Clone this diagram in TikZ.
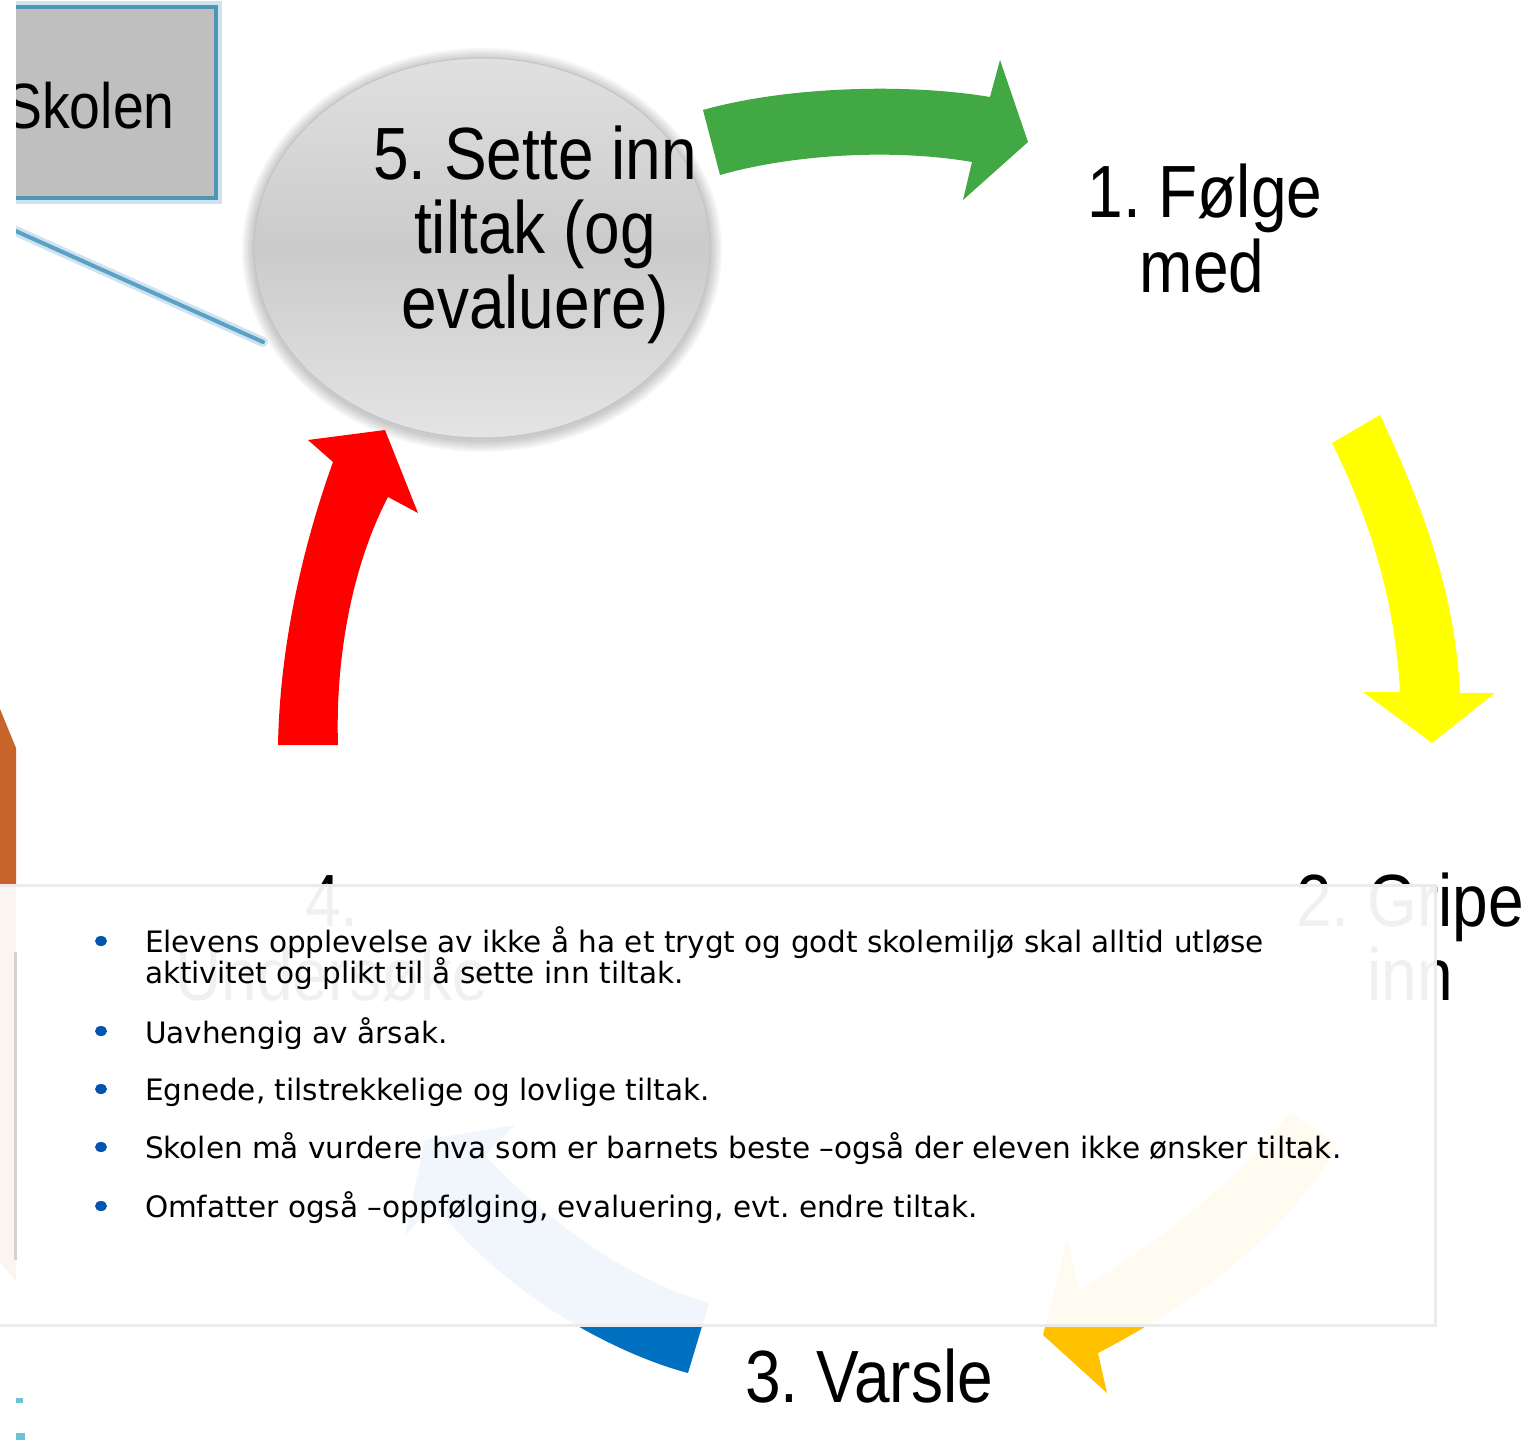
\documentclass[tikz,border=0pt]{standalone}
\usepackage{fontspec}
\usepackage{tikz}
\newfontfamily\stagefont[FakeStretch=0.865]{Liberation Sans}
\newfontfamily\bulletfont{DejaVu Sans}
\usetikzlibrary{shapes.geometric}
\definecolor{arrowgreen}{RGB}{65,168,67}
\definecolor{arrowyellow}{RGB}{255,255,0}
\definecolor{arrowgold}{RGB}{255,192,0}
\definecolor{arrowblue}{RGB}{0,112,192}
\definecolor{arrowred}{RGB}{255,0,0}
\definecolor{sideorange}{RGB}{200,100,42}
\definecolor{boxgray}{RGB}{191,191,191}
\definecolor{boxblue}{RGB}{80,148,182}
\definecolor{glowblue}{RGB}{205,228,240}
\definecolor{linkblue}{RGB}{92,160,198}
\definecolor{dotblue}{RGB}{0,85,176}
\definecolor{ellipsetop}{RGB}{224,224,224}
\definecolor{ellipsemid}{RGB}{203,203,203}
\definecolor{ellipsebottom}{RGB}{228,228,228}
\definecolor{ellipseedge}{RGB}{196,196,196}
\definecolor{overlayedge}{RGB}{235,235,235}
\definecolor{bargray}{RGB}{210,210,210}
\definecolor{speckcyan}{RGB}{110,195,212}
\tikzstyle{stage}=[inner sep=0, outer sep=0, anchor=base, font=\stagefont\fontsize{37}{37}\selectfont]
\tikzstyle{bullettext}=[inner sep=0, outer sep=0, anchor=base west, font=\bulletfont\fontsize{14.75}{15.5}\selectfont]
\tikzstyle{bulletdot}=[ellipse, fill=dotblue, minimum width=6pt, minimum height=5pt, inner sep=0]
\frenchspacing

\begin{document}
\frenchspacing
\begin{tikzpicture}[x=0.5pt, y=-0.5pt]
    \path[use as bounding box, fill=white] (0,0) rectangle (1532,1440);
    % orange piece at the left edge
    \fill[sideorange] (0,709) -- (16,748) -- (16,1282) -- (0,1262) -- cycle;
    % the box on the left, cut at the edge
    \begin{scope}
        \clip (16,0) rectangle (400,700);
        \draw[glowblue, line width=6pt] (-20,7) rectangle (216,198);
        \draw[fill=boxgray, draw=boxblue, line width=2pt] (-20,7) rectangle (216,198);
        \node[inner sep=0, anchor=base, font=\stagefont\fontsize{32}{32}\selectfont] (skolen) at (90,128) {Skolen};
        \coordinate (linkstart) at (-40,206);
        \coordinate (linkend) at (263,342);
        \draw[glowblue, line width=5pt, line cap=round] (linkstart) -- (linkend);
        \draw[linkblue, line width=2pt, line cap=round] (linkstart) -- (linkend);
    \end{scope}
    % step 5
    \foreach \r in {1,...,6}
        \fill[black, opacity=0.035] (482,250) ellipse ({114pt+\r pt} and {95pt+\r pt});
    \node[ellipse, minimum width=228pt, minimum height=190pt, draw=ellipseedge, line width=0.5pt,
          top color=ellipsetop, bottom color=ellipsebottom, middle color=ellipsemid] (s5) at (482,248) {};
    \node[stage] (s5a) at (535,179) {5. Sette inn};
    \node[stage] (s5b) at (535,253) {tiltak (og};
    \node[stage] (s5c) at (535,328) {evaluere)};
    % arrows of the cycle
    \fill[arrowgreen] (703,110) .. controls (780,88) and (900,82) .. (990,97) -- (1000,60) -- (1028,142)
        -- (963,200) -- (972,162) .. controls (890,148) and (790,155) .. (720,175) -- cycle;
    \fill[arrowyellow] (1332,443) -- (1380,415) .. controls (1420,500) and (1455,590) .. (1460,693)
        -- (1495,693) -- (1432,743) -- (1363,692) -- (1400,692) .. controls (1395,600) and (1370,520) .. (1332,443) -- cycle;
    \fill[arrowgold] (1290,1112) -- (1338,1145) .. controls (1290,1230) and (1200,1300) .. (1098,1353)
        -- (1107,1393) -- (1043,1335) -- (1067,1240) -- (1080,1290) .. controls (1160,1240) and (1240,1180) .. (1290,1112) -- cycle;
    \fill[arrowblue] (709,1303) -- (688,1373) .. controls (620,1355) and (510,1300) .. (435,1205)
        -- (405,1235) -- (425,1140) -- (515,1125) -- (485,1155) .. controls (550,1225) and (630,1280) .. (709,1303) -- cycle;
    \fill[arrowred] (278,745) .. controls (280,640) and (305,540) .. (333,462) -- (308,440) -- (385,430)
        -- (418,513) -- (388,497) .. controls (355,560) and (335,650) .. (338,745) -- cycle;
    % steps 1 to 4
    \node[stage] (s1a) at (1205,217) {1. Følge};
    \node[stage] (s1b) at (1202,292) {med};
    \node[stage] (s2a) at (1410,926) {2. Gripe};
    \node[stage] (s2b) at (1410,1000) {inn};
    \node[stage] (s3) at (869,1402) {3. Varsle};
    \node[stage] (s4a) at (332,926) {4.};
    \node[stage] (s4b) at (332,1000) {Undersøke};
    % text box on top
    \draw[draw=overlayedge, line width=1.5pt, fill=white, fill opacity=0.94] (-10,885) rectangle (1435,1325);
    \node[bulletdot] (d1) at (101,941) {};
    \node[bulletdot] (d2) at (101,1031) {};
    \node[bulletdot] (d3) at (101,1089) {};
    \node[bulletdot] (d4) at (101,1147) {};
    \node[bulletdot] (d5) at (101,1206) {};
    \node[bullettext] (b1a) at (145,952) {Elevens opplevelse av ikke å ha et trygt og godt skolemiljø skal alltid utløse};
    \node[bullettext] (b1b) at (145,983) {aktivitet og plikt til å sette inn tiltak.};
    \node[bullettext] (b2) at (145,1043) {Uavhengig av årsak.};
    \node[bullettext] (b3) at (145,1100) {Egnede, tilstrekkelige og lovlige tiltak.};
    \node[bullettext] (b4) at (145,1158) {Skolen må vurdere hva som er barnets beste –også der eleven ikke ønsker tiltak.};
    \node[bullettext] (b5) at (145,1217) {Omfatter også –oppfølging, evaluering, evt. endre tiltak.};
    % bits at the left edge
    \draw[bargray, line width=1.5pt] (15.5,952) -- (15.5,1260);
    \fill[speckcyan] (16,1398) rectangle (23,1403);
    \fill[speckcyan] (16,1433) rectangle (25,1440);
\end{tikzpicture}
\end{document}
